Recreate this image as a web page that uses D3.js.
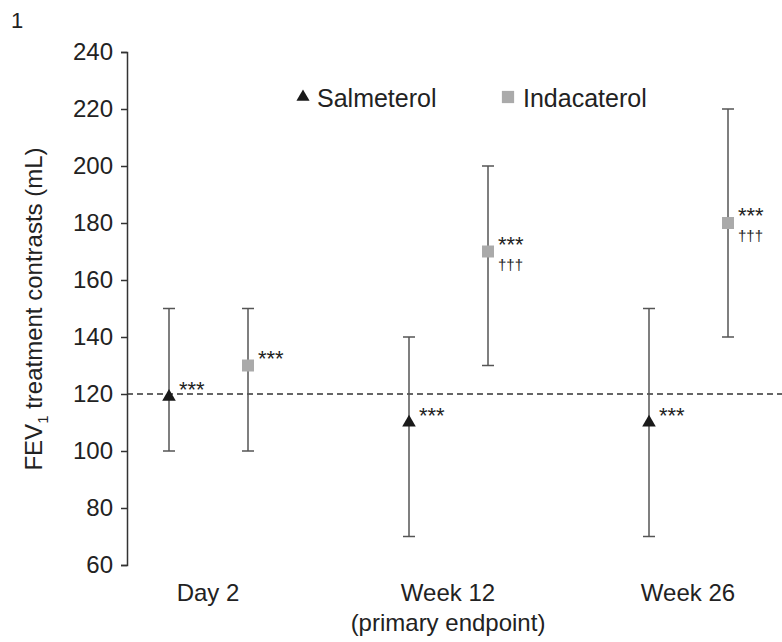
<!DOCTYPE html>
<html>
<head>
<meta charset="utf-8">
<script src="https://cdn.jsdelivr.net/npm/d3@7"></script>
<style>
body { margin: 0; background: #fff; }
text { font-family: "Liberation Sans", Arial, sans-serif; fill: #222; }
</style>
</head>
<body>
<script>
// data
var timepoints = ["Day 2", "Week 12", "Week 26"];
var subLabels = ["", "(primary endpoint)", ""];
var treatments = ["Salmeterol", "Indacaterol"];
var salmeterolMean = [119, 110, 110];
var salmeterolLow = [100, 70, 70];
var salmeterolHigh = [150, 140, 150];
var indacaterolMean = [130, 170, 180];
var indacaterolLow = [100, 130, 140];
var indacaterolHigh = [150, 200, 220];
var salmeterolNote = [["***"], ["***"], ["***"]];
var indacaterolNote = [["***"], ["***", "\u2020\u2020\u2020"], ["***", "\u2020\u2020\u2020"]];
var yTicks = [60, 80, 100, 120, 140, 160, 180, 200, 220, 240];
var refValue = 120;

var W = 782, H = 642;
var margin = {top: 52, left: 127};

var svg = d3.select("body").append("svg")
    .attr("width", W)
    .attr("height", H);

var yScale = d3.scaleLinear()
    .domain([60, 240])
    .range([565, 52]);

var xScale = d3.scalePoint()
    .domain(timepoints)
    .range([208, 688]);

var offset = d3.scalePoint()
    .domain(treatments)
    .range([-39, 40]);

// panel number
svg.append("text")
    .attr("x", 11)
    .attr("y", 28)
    .style("font-size", "22px")
    .text("1");

// y axis
var yAxis = svg.append("g")
    .attr("transform", "translate(" + margin.left + ",0)")
    .call(d3.axisLeft(yScale).tickValues(yTicks).tickSize(6).tickPadding(8).tickSizeOuter(6));
yAxis.select(".domain").attr("stroke", "#333").attr("stroke-width", 1.5);
yAxis.selectAll(".tick line").attr("stroke", "#333").attr("stroke-width", 1.5);
yAxis.selectAll(".tick text")
    .style("font-size", "24px")
    .style("font-family", "Liberation Sans, Arial, sans-serif")
    .attr("fill", "#222");

// y label
var yl = svg.append("text")
    .attr("transform", "translate(42,309) rotate(-90)")
    .attr("text-anchor", "middle")
    .style("font-size", "24px");
yl.append("tspan").text("FEV");
yl.append("tspan").attr("dy", 6).style("font-size", "15px").text("1");
yl.append("tspan").attr("dy", -6).text(" treatment contrasts (mL)");

// x labels
svg.selectAll(".xlab")
    .data(timepoints)
    .enter().append("text")
    .attr("class", "xlab")
    .attr("x", function(d) { return xScale(d); })
    .attr("y", 601)
    .attr("text-anchor", "middle")
    .style("font-size", "24px")
    .text(function(d) { return d; });
svg.selectAll(".xsub")
    .data(subLabels)
    .enter().append("text")
    .attr("class", "xsub")
    .attr("x", function(d, i) { return xScale(timepoints[i]); })
    .attr("y", 631)
    .attr("text-anchor", "middle")
    .style("font-size", "24px")
    .text(function(d) { return d; });

// reference line
svg.append("line")
    .attr("x1", margin.left)
    .attr("x2", W)
    .attr("y1", yScale(refValue))
    .attr("y2", yScale(refValue))
    .attr("stroke", "#333")
    .attr("stroke-width", 1.5)
    .attr("stroke-dasharray", "6,4");

var series = [
  {name: "Salmeterol", mean: salmeterolMean, low: salmeterolLow, high: salmeterolHigh, note: salmeterolNote, color: "#1a1a1a", shape: d3.symbolTriangle},
  {name: "Indacaterol", mean: indacaterolMean, low: indacaterolLow, high: indacaterolHigh, note: indacaterolNote, color: "#aaaaaa", shape: d3.symbolSquare}
];

series.forEach(function(s) {
  var pts = timepoints.map(function(t, i) {
    return {t: t, mean: s.mean[i], low: s.low[i], high: s.high[i], note: s.note[i]};
  });
  var g = svg.append("g");
  var px = function(d) { return xScale(d.t) + offset(s.name); };

  g.selectAll(".bar")
      .data(pts)
      .enter().append("line")
      .attr("x1", px).attr("x2", px)
      .attr("y1", function(d) { return yScale(d.low); })
      .attr("y2", function(d) { return yScale(d.high); })
      .attr("stroke", "#555")
      .attr("stroke-width", 1.5);
  ["low", "high"].forEach(function(k) {
    g.selectAll(".cap" + k)
        .data(pts)
        .enter().append("line")
        .attr("x1", function(d) { return px(d) - 6; })
        .attr("x2", function(d) { return px(d) + 6; })
        .attr("y1", function(d) { return yScale(d[k]); })
        .attr("y2", function(d) { return yScale(d[k]); })
        .attr("stroke", "#555")
        .attr("stroke-width", 1.5);
  });

  g.selectAll(".pt")
      .data(pts)
      .enter().append("path")
      .attr("d", d3.symbol().type(s.shape).size(s.shape === d3.symbolSquare ? 144 : 80))
      .attr("transform", function(d) { return "translate(" + px(d) + "," + yScale(d.mean) + ")"; })
      .attr("fill", s.color);

  // significance marks: stars just above, daggers just below the point
  pts.forEach(function(d) {
    d.note.forEach(function(n, j) {
      g.append("text")
          .attr("x", px(d) + 10)
          .attr("y", yScale(d.mean) + (j === 0 ? 0 : 18))
          .style("font-size", n === "***" ? "22px" : "15px")
          .text(n);
    });
  });
});

// legend
var legend = svg.append("g");
series.forEach(function(s, i) {
  var lx = [303, 508][i];
  legend.append("path")
      .attr("d", d3.symbol().type(s.shape).size(s.shape === d3.symbolSquare ? 150 : 75))
      .attr("transform", "translate(" + lx + ",97)")
      .attr("fill", s.color);
  legend.append("text")
      .attr("x", lx + (i === 0 ? 14 : 15))
      .attr("y", 107)
      .style("font-size", "25px")
      .text(s.name);
});
</script>
</body>
</html>
